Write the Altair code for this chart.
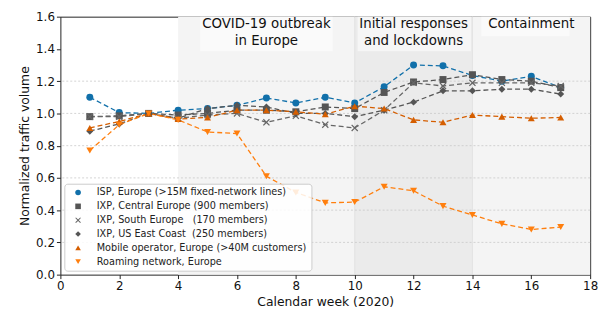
import altair as alt
import pandas as pd

weeks = list(range(1, 18))
series_names = [
    "ISP, Europe (>15M fixed-network lines)",
    "IXP, Central Europe (900 members)",
    "IXP, South Europe\u00a0\u00a0 (170 members)",
    "IXP, US East Coast\u00a0 (250 members)",
    "Mobile operator, Europe (>40M customers)",
    "Roaming network, Europe",
]
isp_europe = [1.10, 1.005, 1.0, 1.02, 1.03, 1.05, 1.095, 1.065, 1.10, 1.065, 1.165, 1.30, 1.295, 1.235, 1.20, 1.23, 1.16]
ixp_central = [0.98, 0.985, 1.0, 0.99, 1.0, 1.02, 1.02, 1.01, 1.04, 1.03, 1.13, 1.195, 1.21, 1.24, 1.21, 1.20, 1.16]
ixp_south = [0.98, 0.98, 1.0, 0.97, 0.99, 1.0, 0.945, 0.985, 0.93, 0.91, 1.02, 1.19, 1.17, 1.19, 1.19, 1.19, 1.17]
ixp_us = [0.89, 0.935, 1.0, 0.97, 1.03, 1.05, 1.04, 1.0, 1.0, 0.98, 1.02, 1.07, 1.14, 1.14, 1.15, 1.15, 1.12]
mobile = [0.91, 0.95, 1.0, 0.965, 0.975, 1.02, 1.02, 1.01, 0.995, 1.045, 1.03, 0.96, 0.945, 0.99, 0.98, 0.97, 0.975]
roaming = [0.77, 0.93, 1.0, 0.96, 0.885, 0.875, 0.61, 0.51, 0.445, 0.45, 0.545, 0.52, 0.425, 0.37, 0.315, 0.28, 0.295]
all_values = [isp_europe, ixp_central, ixp_south, ixp_us, mobile, roaming]

series_colors = ["#1170aa", "#555555", "#666666", "#555555", "#d55e00", "#ff7f0e"]
x_path = "M-1,-0.75L-0.75,-1L0,-0.25L0.75,-1L1,-0.75L0.25,0L1,0.75L0.75,1L0,0.25L-0.75,1L-1,0.75L-0.25,0Z"
series_shapes = ["circle", "square", x_path, "diamond", "triangle-up", "triangle-down"]

band_start = [4, 10, 14]
band_end = [10, 14, 18]
band_color = ["#f4f4f4", "#ebebeb", "#f4f4f4"]

phase_labels = ["COVID-19 outbreak\nin Europe", "Initial responses\nand lockdowns", "Containment"]
phase_x = [7, 12, 16]
box_x1 = [4.75, 10.1, 14.3]
box_x2 = [9.25, 13.95, 17.3]
box_y1 = [1.385, 1.385, 1.478]
grid_values = [0.2, 0.4, 0.6, 0.8, 1.0, 1.2]
boundary_weeks = [10, 14]
y_ticks = [0.0, 0.2, 0.4, 0.6, 0.8, 1.0, 1.2, 1.4, 1.6]
x_ticks = list(range(0, 19, 2))

rows = []
for name, vals in zip(series_names, all_values):
    for w, v in zip(weeks, vals):
        rows.append({"week": w, "value": v, "series": name})
df = pd.DataFrame(rows)

bands = pd.DataFrame({"x": band_start, "x2": band_end, "c": band_color})
boxes = pd.DataFrame({"x": box_x1, "x2": box_x2, "y": box_y1, "y2": [1.6] * 3})
texts = pd.DataFrame({"x": phase_x, "label": [l.split("\n") for l in phase_labels], "y": [1.597] * 3})
grid = pd.DataFrame({"y": grid_values})
bounds = pd.DataFrame({"x": boundary_weeks})

xscale = alt.Scale(domain=[0, 18], nice=False)
yscale = alt.Scale(domain=[0, 1.6], nice=False)

xaxis = alt.Axis(values=x_ticks, title="Calendar week (2020)", grid=False,
                 tickColor="#222", domain=False, labelFlush=False, labelOverlap=False)
yaxis = alt.Axis(values=y_ticks, format=".1f", title="Normalized traffic volume",
                 grid=False, tickColor="#222", domain=False, labelFlush=False, labelOverlap=False)


def X(field):
    return alt.X(field, scale=xscale, axis=xaxis)


def Y(field):
    return alt.Y(field, scale=yscale, axis=yaxis)


band_layer = alt.Chart(bands).mark_rect().encode(
    x=X("x:Q"), x2="x2:Q",
    color=alt.Color("c:N", scale=None),
)
bound_layer = alt.Chart(bounds).mark_rule(color="#e2e2e2", strokeWidth=1).encode(x=X("x:Q"))
grid_layer = alt.Chart(grid).mark_rule(color="#c8c8c8", strokeDash=[2, 2], strokeWidth=0.8).encode(
    y=Y("y:Q")
)
box_layer = alt.Chart(boxes).mark_rect(color="white", opacity=0.55).encode(
    x=X("x:Q"), x2="x2:Q", y=Y("y:Q"), y2="y2:Q"
)
text_layer = alt.Chart(texts).mark_text(baseline="top", align="center", fontSize=13.5, color="#111",
                                         lineHeight=17).encode(
    x=X("x:Q"), y=Y("y:Q"), text="label"
)

color_scale = alt.Scale(domain=series_names, range=series_colors)
shape_scale = alt.Scale(domain=series_names, range=series_shapes)

legend = alt.Legend(title=None, orient="bottom-left", offset=4, labelFontSize=9.8,
                    labelColor="#222", fillColor="rgba(255,255,255,0.85)", strokeColor="#cccccc",
                    padding=4, rowPadding=3, cornerRadius=3, symbolSize=32, labelLimit=400,
                    symbolStrokeWidth=0, symbolOffset=5, labelOffset=14)

line_layer = alt.Chart(df).mark_line(strokeDash=[5, 3], strokeWidth=1.3).encode(
    x=X("week:Q"),
    y=Y("value:Q"),
    color=alt.Color("series:N", scale=color_scale, legend=legend, sort=series_names),
    detail="series:N",
)
point_layer = alt.Chart(df).mark_point(filled=True, size=50, opacity=1).encode(
    x=X("week:Q"),
    y=Y("value:Q"),
    color=alt.Color("series:N", scale=color_scale, legend=legend, sort=series_names),
    shape=alt.Shape("series:N", scale=shape_scale, legend=legend, sort=series_names),
)

chart = alt.layer(band_layer, bound_layer, grid_layer, box_layer, text_layer, line_layer, point_layer).properties(
    width=536, height=261, padding={"top": 1, "left": 10, "right": 5, "bottom": 0}
).configure(font="DejaVu Sans").configure_view(stroke="#222", strokeWidth=1).configure_axis(
    labelFontSize=12, titleFontSize=12.5, labelColor="#111", titleColor="#111", titleFontWeight="normal",
    tickSize=4
)

chart.save("out.html", embed_options={"renderer": "svg", "actions": False})
